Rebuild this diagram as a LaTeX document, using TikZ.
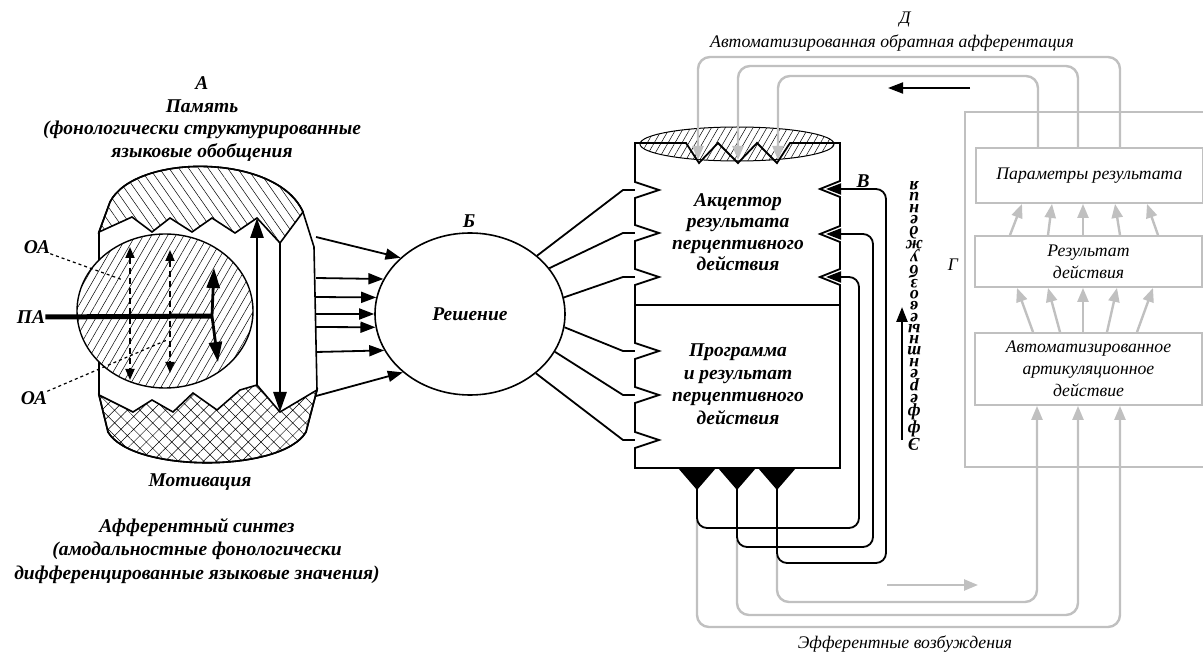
\documentclass[tikz,border=0pt]{standalone}
\usepackage{fontspec}
\setmainfont{Liberation Serif}
\usepackage{tikz}
\usetikzlibrary{arrows.meta, positioning, calc, shapes.geometric, patterns.meta}
\definecolor{fbgray}{RGB}{192,192,192}

\begin{document}
\begin{tikzpicture}[x=1pt, y=-1pt,
    lbl/.style={font=\fontsize{19.5}{19.5}\selectfont\bfseries\itshape, align=center, inner sep=0pt},
    glbl/.style={font=\fontsize{17.7}{22}\selectfont\itshape, align=center, inner sep=0pt},
    arr/.style={-{Triangle[length=15pt,width=11pt]}, line width=1.8pt},
    bigarr/.style={-{Triangle[length=20pt,width=13pt]}, line width=2.8pt},
    dasharr/.style={{Triangle[length=11pt,width=9pt]}-{Triangle[length=11pt,width=9pt]}, line width=1.8pt, dash pattern=on 6pt off 4pt},
    garr/.style={-{Triangle[length=14pt,width=11pt]}, draw=fbgray, line width=2.4pt},
    gbox/.style={draw=fbgray, line width=1.8pt, glbl, minimum width=227pt}]
  \useasboundingbox (0,0) rectangle (1203,652);

  % A: memory / motivation body
  \draw[line width=1.6pt, fill=white] (110,202) .. controls (135,153) and (277,153) .. (303,212)
    -- (314,247) -- (317,390) -- (306,432) .. controls (282,473) and (132,473) .. (108,432)
    -- (99,395) -- (99,232) -- cycle;
  \draw[line width=1.6pt, pattern={Lines[angle=-55,distance=8pt,line width=0.5pt]}]
    (99,232) -- (110,202) .. controls (135,153) and (277,153) .. (303,212)
    -- (280,243) -- (257,218) -- (235,233) -- (212,218) -- (192,232)
    -- (170,218) -- (152,232) -- (132,217) -- cycle;
  \draw[line width=1.6pt, pattern={Hatch[angle=45,distance=9pt,line width=0.5pt]}]
    (99,395) -- (133,412) -- (152,400) -- (173,412) -- (193,393) -- (217,410)
    -- (240,390) -- (257,385) -- (280,412) -- (317,390) -- (306,432)
    .. controls (282,473) and (132,473) .. (108,432) -- cycle;
  \draw[line width=1.4pt, preaction={fill=white}, pattern={Lines[angle=60,distance=7pt,line width=0.5pt]}]
    (165,311) ellipse [x radius=88, y radius=77];
  \draw[bigarr] (257,385) -- (257,218);
  \draw[bigarr] (280,243) -- (280,412);

  % PA and OA
  \node[lbl] (pa) at (31,317) {ПА};
  \node[lbl] (oa1) at (37,247) {ОА};
  \node[lbl] (oa2) at (34,398) {ОА};
  \draw[line width=5pt] (pa.east) -- (212,316) coordinate (fork);
  \draw[bigarr] (fork) -- (214,268);
  \draw[bigarr] (fork) -- (218,362);
  \draw[dasharr] (130,247) -- (130,380);
  \draw[dasharr] (170,250) -- (170,373);
  \draw[dashed, line width=1.2pt] (oa1.south east) -- (123,280);
  \draw[dashed, line width=1.2pt] (oa2.north east) -- (167,340);

  \node[lbl, font=\fontsize{19.5}{22.5}\selectfont\bfseries\itshape] (mem) at (202,119)
    {А\\Память\\(фонологически структурированные\\языковые обобщения};
  \node[lbl] (mot) at (200,482) {Мотивация};
  \node[lbl, font=\fontsize{19.5}{23.5}\selectfont\bfseries\itshape] (aff) at (197,551)
    {Афферентный синтез\\(амодальностные фонологически\\дифференцированные языковые значения)};

  % B: decision
  \node[draw, ellipse, line width=1.6pt, minimum width=190pt, minimum height=162pt, lbl] (dec) at (470,314) {Решение};
  \node[lbl] (b) at (469,221) {Б};
  \foreach \y/\a in {237/141, 278/158, 297/170, 314/180, 327/188, 352/203, 396/221}
    \draw[arr] (316,\y) -- (dec.\a);
  \foreach \a/\y in {41/190, 30/233, 10/277, 352/351, 336/395, 318/440}
    \draw[arr] (dec.\a) -- (623,\y) -- (653,\y);

  % G: automated action
  \draw[fbgray, line width=1.8pt] (1210,112) -- (965,112) -- (965,467) -- (1210,467);
  \node[glbl] (g) at (953,265) {Г};
  \node[gbox, minimum height=55pt] (par) at (1089.5,175.5) {Параметры результата};
  \node[gbox, minimum height=51pt] (res) at (1088.5,261.5) {Результат\\действия};
  \node[gbox, minimum height=72pt] (aut) at (1088.5,369) {Автоматизированное\\артикуляционное\\действие};
  \foreach \a/\b in {1033/1017, 1060/1048, 1083/1083, 1107/1117, 1137/1153}
    \draw[garr] (aut.north -| \a,0) -- (res.south -| \b,0);
  \foreach \a/\b in {1010/1022, 1048/1052, 1083/1083, 1120/1115, 1158/1147}
    \draw[garr] (res.north -| \a,0) -- (par.south -| \b,0);

  % acceptor and program box
  \fill[white] (635,143) rectangle (840,468);
  \draw[line width=1pt, preaction={fill=white}, pattern={Lines[angle=60,distance=6pt,line width=0.5pt]}]
    (737,144) ellipse [x radius=97, y radius=17];
  % D: feedback loops
  \draw[garr, rounded corners=12pt] (par.north -| 1120,0) -- (1120,57) -- (698,57) -- (698,160);
  \draw[garr, rounded corners=12pt] (par.north -| 1078,0) -- (1078,66) -- (738,66) -- (738,160);
  \draw[garr, rounded corners=12pt] (par.north -| 1038,0) -- (1038,76) -- (778,76) -- (778,160);
  \draw[line width=1.8pt] (635,143) -- (686,143) -- (699,163) -- (718,143) -- (738,163) -- (757,143)
    -- (777,163) -- (790,143) -- (840,143)
    \foreach \y in {189,234,277} { -- (840,\y-8) -- (820,\y) -- (840,\y+8) }
    -- (840,468) -- (635,468)
    \foreach \y in {440,395,351,277,233,190} { -- (635,\y+8) -- (659,\y) -- (635,\y-8) }
    -- cycle;
  \draw[line width=1.8pt] (635,305) -- (840,305);
  \node[lbl, font=\fontsize{19.5}{21.5}\selectfont\bfseries\itshape] (acc) at (738,232)
    {Акцептор\\результата\\перцептивного\\действия};
  \node[lbl, font=\fontsize{19.5}{22.5}\selectfont\bfseries\itshape] (prog) at (738,384)
    {Программа\\и результат\\перцептивного\\действия};
  \foreach \x in {697,737,777}
    \fill (\x-19,468) -- (\x+19,468) -- (\x,490) -- cycle;

  % efferent loops
  \draw[garr, rounded corners=12pt] (697,520) -- (697,627) -- (1120,627) -- (aut.south -| 1120,0);
  \draw[garr, rounded corners=12pt] (737,540) -- (737,615) -- (1078,615) -- (aut.south -| 1078,0);
  \draw[garr, rounded corners=12pt] (777,555) -- (777,602) -- (1037,602) -- (aut.south -| 1037,0);
  \draw[arr, rounded corners=10pt] (697,488) -- (697,528) -- (859,528) -- (859,277) -- (826,277);
  \draw[arr, rounded corners=10pt] (737,488) -- (737,547) -- (873,547) -- (873,234) -- (826,234);
  \draw[arr, rounded corners=10pt] (777,488) -- (777,563) -- (886,563) -- (886,189) -- (826,189);
  \node[lbl] (v) at (863,181) {В};

  % vertical label
  \node[rotate=180, align=center, inner sep=0pt,
        font=\fontsize{18}{11.3}\selectfont\bfseries\itshape] (eff) at (914,316)
    {\lineskiplimit=-100pt\relax
     Э\\ф\\ф\\е\\р\\е\\н\\т\\н\\ы\\е\\в\\о\\з\\б\\у\\ж\\д\\е\\н\\и\\я};
  \coordinate (effbot) at (902,440);
  \coordinate (efftop) at (902,307);
  \draw[arr, line width=2.4pt] (effbot) -- (efftop);

  % direction arrows and captions
  \coordinate (fbstart) at (970,88);
  \coordinate (fbend) at (888,88);
  \draw[arr] (fbstart) -- (fbend);
  \coordinate (efstart) at (887,585);
  \coordinate (efend) at (978,585);
  \draw[garr] (efstart) -- (efend);
  \node[glbl] (d) at (905,20) {Д};
  \node[glbl] (dtxt) at (892,43) {Автоматизированная обратная афферентация};
  \node[glbl] (eftxt) at (905,644) {Эфферентные возбуждения};
\end{tikzpicture}
\end{document}
